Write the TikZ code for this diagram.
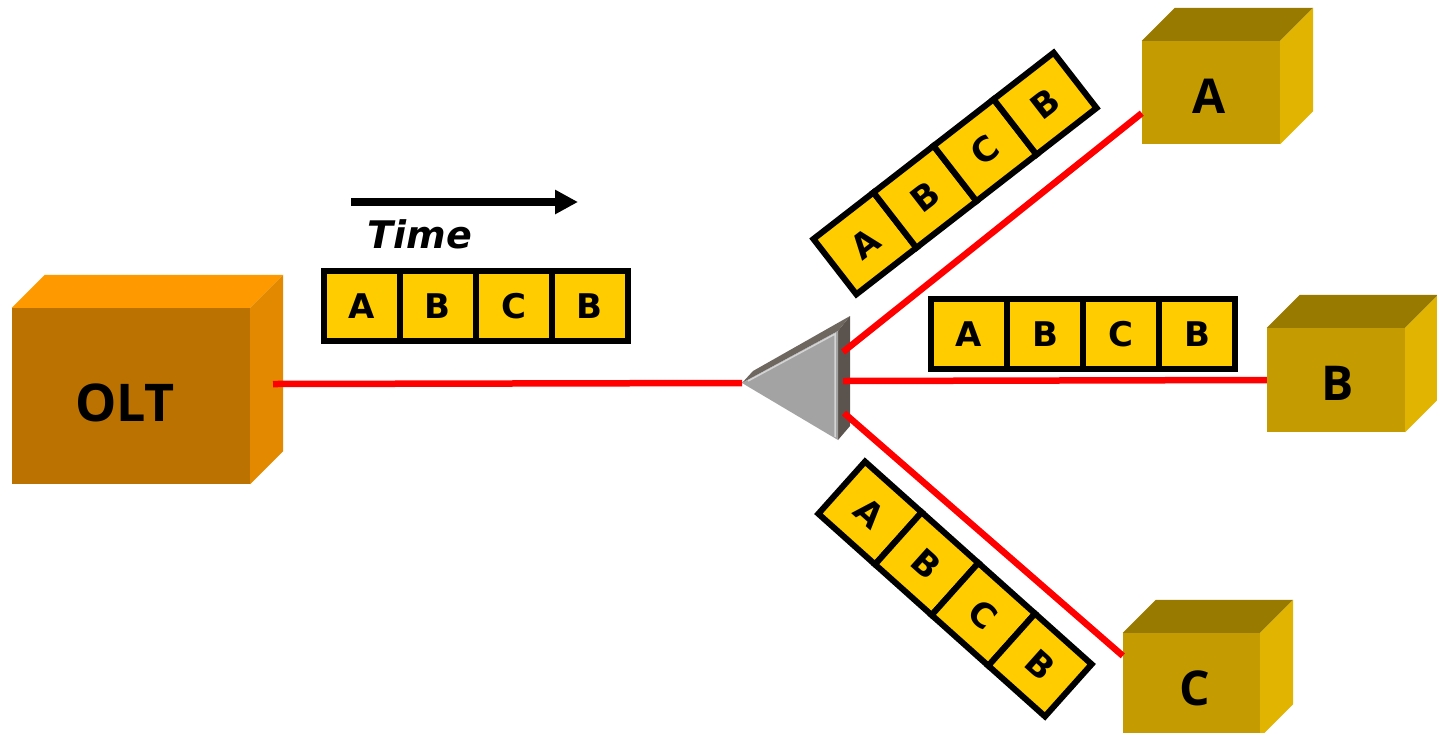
\documentclass[tikz,border=0pt]{standalone}
\usepackage{fontspec}
\setmainfont{DejaVu Sans}
\newfontfamily\unitfont{Open Sans}
\usetikzlibrary{arrows.meta,calc}

\definecolor{cellfill}{RGB}{255,204,0}
\definecolor{fiberred}{RGB}{255,0,0}
\definecolor{oltfront}{RGB}{188,114,0}
\definecolor{olttop}{RGB}{255,153,0}
\definecolor{oltside}{RGB}{226,137,0}
\definecolor{onufront}{RGB}{196,155,0}
\definecolor{onutop}{RGB}{153,122,0}
\definecolor{onuside}{RGB}{224,180,0}
\definecolor{splitface}{RGB}{163,163,163}
\definecolor{splitedge}{RGB}{91,84,78}
\definecolor{splitbevel}{RGB}{110,103,96}
\definecolor{splitlight}{RGB}{212,212,212}

\tikzset{
  cell/.style={draw=black, line width=6pt, fill=cellfill, minimum width=76pt,
    minimum height=70pt, inner sep=0pt,
    font=\fontsize{34}{34}\selectfont\bfseries},
  fiber/.style={draw=fiberred, line width=6.5pt},
  unitface/.style={inner sep=0pt, text=black},
  unitlabel/.style={inner sep=0pt, text=black, font=\unitfont\bfseries\fontsize{#1}{#1}\selectfont},
  timearrow/.style={line width=7.5pt, -{Triangle[length=23pt,width=23pt]}},
}

% four time slots A B C B, laid along the local x axis
\newcommand\slotstrip[4]{%
  \begin{scope}[shift={(#2,#3)}, rotate=#4, transform shape]
    \node[cell] (#1-1) at (-114,0) {A};
    \node[cell] (#1-2) at (-38,0)  {B};
    \node[cell] (#1-3) at (38,0)   {C};
    \node[cell] (#1-4) at (114,0)  {B};
  \end{scope}}

% a box drawn as a cube: front face node, top face, right face
% #1 name, #2 centre, #3 width, #4 height, #5 colour prefix
\newcommand\unitbox[5]{%
  \node[unitface, fill=#5front, minimum width=#3, minimum height=#4] (#1) at #2 {};
  \fill[#5top] (#1.north west) -- ++(33,-33) -- ($(#1.north east)+(33,-33)$)
    -- (#1.north east) -- cycle;
  \fill[#5side] (#1.north east) -- ++(33,-33) -- ($(#1.south east)+(33,-33)$)
    -- (#1.south east) -- cycle;}

\begin{document}
\begin{tikzpicture}[x=1pt,y=-1pt]
  \useasboundingbox (0,0) rectangle (1437,732);

  % terminal equipment
  \unitbox{olt}{(131,396)}{238pt}{176pt}{olt}
  \unitbox{onuA}{(1211,92.5)}{138pt}{103pt}{onu}
  \unitbox{onuB}{(1336,380)}{138pt}{104pt}{onu}
  \unitbox{onuC}{(1191.5,685)}{137pt}{104pt}{onu}
  \node[unitlabel=52] (olt-label) at (125,403) {OLT};
  \node[unitlabel=48] (onuA-label) at (1209,96) {A};
  \node[unitlabel=48] (onuB-label) at (1338,383) {B};
  \node[unitlabel=48] (onuC-label) at (1195,688) {C};

  % passive splitter
  \coordinate (sp-in) at (742,383);
  \coordinate (sp-top) at (838,331);
  \coordinate (sp-bot) at (838,440);
  \fill[splitedge] (sp-top) -- (850,316) -- (850,426) -- (sp-bot) -- cycle;
  \fill[splitbevel] (sp-in) -- (753,371) -- (850,316) -- (sp-top) -- cycle;
  \fill[splitface] (sp-in) -- (sp-top) -- (sp-bot) -- cycle;
  \draw[splitlight, line width=1.5pt] (748,381) -- (835,334) -- (835,437);

  % fibre ports
  \coordinate (olt-port) at (273,384);
  \coordinate (sp-a) at (843,352);
  \coordinate (sp-b) at (843,381);
  \coordinate (sp-c) at (844,413);
  \coordinate (onuA-port) at ($(onuA.south west)+(0,-31)$);
  \coordinate (onuC-port) at ($(onuC.north west)+(0,23)$);

  % fibres
  \draw[fiber] (olt-port) -- (sp-in);
  \draw[fiber] (sp-a) -- (onuA-port);
  \draw[fiber] (sp-b) -- (onuB.west);
  \draw[fiber] (sp-c) -- (onuC-port);

  % time direction
  \coordinate (t-start) at (351,202);
  \coordinate (t-end) at (578,202);
  \draw[timearrow] (t-start) -- (t-end);
  \node[font=\fontsize{38}{38}\selectfont\bfseries\itshape] (time) at (420,234) {Time};

  % downstream frames
  \slotstrip{feed}{475.5}{306}{0}
  \slotstrip{toB}{1083}{334}{0}
  \slotstrip{toA}{955}{173.5}{37.8}
  \slotstrip{toC}{955}{589}{-41.8}
\end{tikzpicture}
\end{document}
